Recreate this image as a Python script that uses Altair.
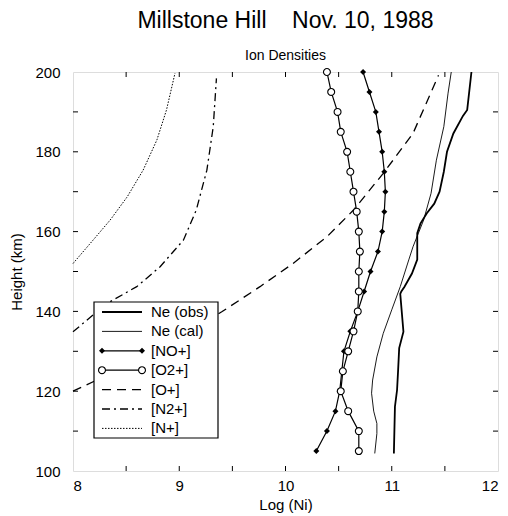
import altair as alt
import pandas as pd

FONT = "Liberation Sans"

# ---- data ----
ion_heights = [200, 195, 190, 185, 180, 175, 170, 165, 160, 155,
               150, 145, 140, 135, 130, 125, 120, 115, 110, 105]
o2p = [10.39, 10.43, 10.49, 10.52, 10.58, 10.61, 10.64, 10.67, 10.69, 10.70,
       10.69, 10.69, 10.68, 10.64, 10.59, 10.54, 10.52, 10.59, 10.69, 10.69]
nop = [10.73, 10.79, 10.85, 10.88, 10.91, 10.93, 10.94, 10.93, 10.91, 10.87,
       10.80, 10.74, 10.68, 10.61, 10.55, 10.53, 10.51, 10.47, 10.39, 10.29]

ne_obs_h = [200, 190.5, 189, 184.6, 180, 175, 170, 167, 164.6, 162, 159.6, 153,
            149.5, 146.2, 145, 144.4, 134.9, 130.8, 125.3, 120.3, 116.1, 104.4]
ne_obs_x = [11.75, 11.71, 11.67, 11.58, 11.52, 11.49, 11.45, 11.40, 11.33, 11.27, 11.24, 11.24,
            11.19, 11.12, 11.09, 11.08, 11.11, 11.07, 11.06, 11.05, 11.03, 11.02]

ne_cal_h = [200, 194.7, 186.3, 177.9, 169.6, 162.9, 156.2, 152.9, 146.2, 140.4,
            134.5, 128.6, 122.8, 119.5, 115, 111.9, 109.4, 104.4]
ne_cal_x = [11.56, 11.53, 11.49, 11.42, 11.37, 11.30, 11.20, 11.16, 11.08, 11.00,
            10.92, 10.86, 10.82, 10.81, 10.83, 10.86, 10.86, 10.84]

op_h = [120, 125, 130.5, 135, 139.9, 146.2, 152, 158.7, 165.4, 174.6, 184.6, 199.2]
op_x = [8.0, 8.4, 8.8, 9.1, 9.40, 9.76, 10.07, 10.39, 10.64, 10.92, 11.20, 11.44]

n2p_h = [134.9, 142, 146.2, 151.2, 157.9, 165.4, 175.4, 186.3, 198.4]
n2p_x = [8.0, 8.32, 8.60, 8.82, 9.04, 9.16, 9.26, 9.32, 9.35]

np_h = [152, 157.9, 162.9, 168.7, 175.4, 183, 190.5, 199.7]
np_x = [8.0, 8.19, 8.35, 8.51, 8.66, 8.79, 8.88, 8.96]

x_labels = [8, 9, 10, 11, 12]
y_labels = [100, 120, 140, 160, 180, 200]
x_minor = [8.5, 9, 9.5, 10, 10.5, 11, 11.5]
y_minor = [110, 120, 130, 140, 150, 160, 170, 180, 190]

legend_labels = ["Ne (obs)", "Ne (cal)", "[NO+]", "[O2+]", "[O+]", "[N2+]", "[N+]"]

W, H = 425, 399

xs = alt.Scale(domain=[8, 12], nice=False, zero=False)
ys = alt.Scale(domain=[100, 200], nice=False, zero=False)

x_axis = alt.Axis(values=x_labels, format="d", tickSize=0, domain=False, grid=False,
                  labelPadding=7, titlePadding=4, labelFont=FONT, labelFontSize=15,
                  labelColor="black", titleFont=FONT, titleFontSize=15, titleColor="black",
                  titleFontWeight="normal")
y_axis = alt.Axis(values=y_labels, tickSize=0, domain=False, grid=False,
                  labelPadding=13, titlePadding=10, labelFont=FONT, labelFontSize=15,
                  labelColor="black", titleFont=FONT, titleFontSize=15, titleColor="black",
                  titleFontWeight="normal")


def df(xv, hv):
    return pd.DataFrame({"x": xv, "h": hv, "i": range(len(xv))})


def X():
    return alt.X("x:Q", scale=xs, title="Log (Ni)", axis=x_axis)


def Y():
    return alt.Y("h:Q", scale=ys, title="Height (km)", axis=y_axis)


layers = []

# N+ dotted
layers.append(alt.Chart(df(np_x, np_h)).mark_line(color="black", strokeWidth=1, strokeDash=[1.5, 1.5]).encode(
    x=X(), y=Y(), order="i:O"))
# N2+ dash-dot
layers.append(alt.Chart(df(n2p_x, n2p_h)).mark_line(color="black", strokeWidth=1.3, strokeDash=[8, 4, 2, 4]).encode(
    x=X(), y=Y(), order="i:O"))
# O+ dashed
layers.append(alt.Chart(df(op_x, op_h)).mark_line(color="black", strokeWidth=1.3, strokeDash=[9, 6]).encode(
    x=X(), y=Y(), order="i:O"))
# Ne cal
layers.append(alt.Chart(df(ne_cal_x, ne_cal_h)).mark_line(color="black", strokeWidth=0.9).encode(
    x=X(), y=Y(), order="i:O"))
# Ne obs
layers.append(alt.Chart(df(ne_obs_x, ne_obs_h)).mark_line(color="black", strokeWidth=1.8).encode(
    x=X(), y=Y(), order="i:O"))
# NO+
no_df = df(nop, ion_heights)
layers.append(alt.Chart(no_df).mark_line(color="black", strokeWidth=1.2).encode(x=X(), y=Y(), order="i:O"))
layers.append(alt.Chart(no_df).mark_point(shape="diamond", filled=True, color="black", size=36, opacity=1).encode(
    x=X(), y=Y()))
# O2+
o2_df = df(o2p, ion_heights)
layers.append(alt.Chart(o2_df).mark_line(color="black", strokeWidth=1.2).encode(x=X(), y=Y(), order="i:O"))
layers.append(alt.Chart(o2_df).mark_point(shape="circle", filled=True, fill="white", stroke="black",
                                          strokeWidth=1.1, size=48, opacity=1).encode(x=X(), y=Y()))

# inward ticks
xt = pd.DataFrame({"x": x_minor})
yt = pd.DataFrame({"h": y_minor})
layers.append(alt.Chart(xt).mark_rule(color="black", strokeWidth=1).encode(x=X(), y=alt.value(H), y2=alt.value(H - 5)))
layers.append(alt.Chart(xt).mark_rule(color="black", strokeWidth=1).encode(x=X(), y=alt.value(0), y2=alt.value(5)))
layers.append(alt.Chart(yt).mark_rule(color="black", strokeWidth=1).encode(y=Y(), x=alt.value(0), x2=alt.value(5)))
layers.append(alt.Chart(yt).mark_rule(color="black", strokeWidth=1).encode(y=Y(), x=alt.value(W), x2=alt.value(W - 5)))

# ---- legend box ----
one = alt.Data(values=[{"a": 1}])
LX0, LX1, LY0, LY1 = 21, 145, 230, 366
layers.append(alt.Chart(one).mark_rect(fill="white", stroke="black", strokeWidth=1.2).encode(
    x=alt.value(LX0), x2=alt.value(LX1), y=alt.value(LY0), y2=alt.value(LY1)))

styles = [
    dict(strokeWidth=1.8),
    dict(strokeWidth=0.9),
    dict(strokeWidth=1.2),
    dict(strokeWidth=1.2),
    dict(strokeWidth=1.3, strokeDash=[9, 6]),
    dict(strokeWidth=1.3, strokeDash=[8, 4, 2, 4]),
    dict(strokeWidth=1, strokeDash=[1.5, 1.5]),
]
for k, (lab, st) in enumerate(zip(legend_labels, styles)):
    py = 240 + k * 19.4
    layers.append(alt.Chart(one).mark_rule(color="black", **st).encode(
        x=alt.value(29), x2=alt.value(69), y=alt.value(py)))
    layers.append(alt.Chart(alt.Data(values=[{"t": lab}])).mark_text(
        font=FONT, fontSize=15, color="black", align="left", baseline="middle").encode(
        text="t:N", x=alt.value(78), y=alt.value(py)))
    if lab == "[NO+]":
        for px in (29, 69):
            layers.append(alt.Chart(one).mark_point(shape="diamond", filled=True, color="black", size=36,
                                                    opacity=1).encode(x=alt.value(px), y=alt.value(py)))
    if lab == "[O2+]":
        for px in (29, 69):
            layers.append(alt.Chart(one).mark_point(shape="circle", filled=True, fill="white", stroke="black",
                                                    strokeWidth=1.1, size=48, opacity=1).encode(
                x=alt.value(px), y=alt.value(py)))

chart = alt.layer(*layers).properties(
    width=W, height=H,
    title=alt.TitleParams(
        text="Millstone Hill\u00a0\u00a0\u00a0\u00a0Nov. 10, 1988",
        subtitle="Ion Densities",
        font=FONT, fontSize=23, fontWeight="normal", color="black",
        subtitleFont=FONT, subtitleFontSize=14, subtitleColor="black", subtitlePadding=16,
        anchor="middle", offset=2),
    autosize=alt.AutoSizeParams(type="none"),
    padding={"left": 73, "top": 72, "right": 10, "bottom": 45},
).configure_view(stroke="black", strokeWidth=1.2).configure(background="white")

chart.save("out.html", embed_options={"renderer": "svg", "actions": False})
